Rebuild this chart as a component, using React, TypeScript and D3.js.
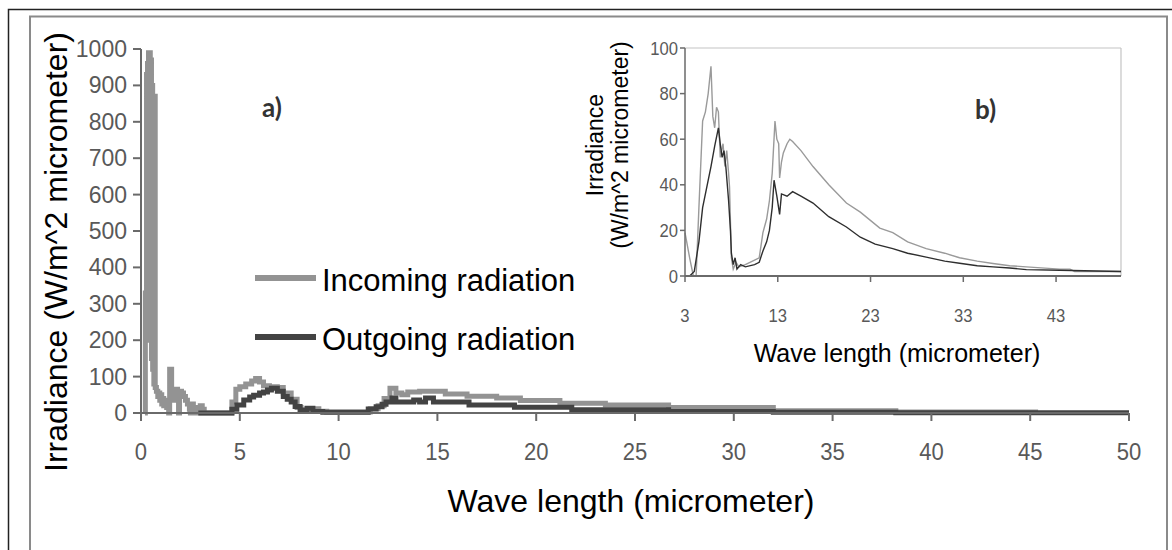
import React from 'react';
import * as d3 from 'd3';

// ---------- tick labels ----------
const mainTicksX = [0, 5, 10, 15, 20, 25, 30, 35, 40, 45, 50];
const mainTicksY = [0, 100, 200, 300, 400, 500, 600, 700, 800, 900, 1000];
const insetTicksX = [3, 13, 23, 33, 43];
const insetTicksY = [0, 20, 40, 60, 80, 100];

// ---------- main chart a) ----------
const mainInX = [0.20, 0.22, 0.26, 0.28, 0.31, 0.33, 0.36, 0.38, 0.41, 0.44, 0.47, 0.50, 0.53, 0.56, 0.59, 0.62, 0.65, 0.68, 0.72,
  0.78, 0.85, 0.90, 0.95, 1.00, 1.05, 1.10, 1.15, 1.20, 1.30, 1.35, 1.40, 1.45, 1.55, 1.60, 1.70, 1.75, 1.85, 1.90, 1.95, 2.05,
  2.15, 2.25, 2.35, 2.45, 2.50, 2.55, 2.65, 2.80, 3.00, 3.10, 3.20, 4.40, 4.60, 4.80, 5.00, 5.30, 5.60, 5.80, 6.00, 6.20, 6.50,
  6.90, 7.20, 7.60, 7.90, 8.10, 8.60, 9.00, 9.40, 11.20, 11.60, 12.00, 12.30, 12.60, 12.90, 13.20, 13.50, 14.10, 15.40, 16.50,
  18.00, 19.20, 21.20, 23.50, 26.70, 32.00, 38.20, 45.40];
const mainInY = [0, 330, 310, 930, 330, 960, 300, 990, 350, 990, 200, 970, 150, 900, 120, 870, 80, 870, 70,
  60, 45, 55, 35, 50, 25, 40, 20, 35, 15, 30, 0, 120, 40, 60, 35, 65, 50, 0, 60, 55,
  45, 35, 25, 10, 0, 25, 15, 0, 20, 10, 0, 0, 30, 65, 72, 80, 88, 95, 85, 75, 72,
  70, 55, 38, 15, 5, 12, 5, 3, 3, 12, 20, 40, 68, 55, 50, 58, 60, 52, 46,
  41, 34, 27, 22, 15, 6, 3, 3];

const mainOutX = [2.9, 4.3, 4.6, 4.85, 5.2, 5.5, 5.7, 6.0, 6.2, 6.4, 6.6, 6.9, 7.2, 7.4, 7.6, 7.8, 8.05, 8.4, 8.7, 9.2,
  11.2, 11.5, 11.9, 12.2, 12.4, 12.7, 12.9, 13.2, 13.8, 14.1, 14.4, 14.8, 15.6, 16.6, 18.9, 21.8, 26.7, 32.0, 38.2, 50.0];
const mainOutY = [0, 0, 10, 22, 36, 44, 49, 55, 58, 63, 68, 60, 45, 38, 30, 18, 8, 13, 4, 2,
  2, 11, 17, 24, 30, 41, 30, 30, 36, 30, 41, 30, 30, 22, 16, 9, 4, 2, 1, 1];

// ---------- inset b) ----------
const insetInX = [3, 3.5, 3.9, 4.2, 4.5, 4.9, 5.2, 5.5, 5.8, 6.0, 6.2, 6.4, 6.6, 6.8, 7.1, 7.3, 7.5, 7.7, 7.8, 8.0, 8.2, 8.5,
  8.8, 9.5, 10.5, 11.0, 11.4, 11.8, 12.1, 12.4, 12.7, 12.9, 13.1, 13.2, 13.4, 13.6, 14.0, 14.3, 14.6, 15.5, 16.8, 18.5,
  20.4, 21.9, 24, 25.4, 27, 29, 31, 32.6, 34.5, 36.2, 38, 39.8, 43.4, 44.5, 45, 50];
const insetInY = [19, 8, 0, 0, 30, 68, 72, 80, 92, 70, 65, 74, 72, 52, 58, 48, 55, 45, 39, 8, 3, 6,
  4, 5, 7, 8, 19, 25, 33, 45, 68, 60, 58, 43, 50, 54, 58, 60, 59, 55, 48, 40,
  32, 28, 21, 19, 15, 12, 10, 8, 6.5, 5.5, 4.5, 4, 3, 3, 2, 2];

const insetOutX = [3, 3.5, 4.0, 4.5, 4.9, 5.3, 5.8, 6.2, 6.6, 6.8, 7.0, 7.2, 7.4, 7.7, 7.9, 8.0, 8.2, 8.4, 8.6, 9, 9.5,
  10.5, 11, 11.4, 11.8, 12.1, 12.4, 12.6, 12.9, 13.2, 13.4, 14, 14.6, 15.5, 16.8, 18.5, 20.4, 21.9, 23.5, 25.4, 27, 29,
  31, 32.6, 34.5, 36.2, 38, 39.8, 43.4, 50];
const insetOutY = [0, 0, 2, 15, 30, 38, 48, 57, 65, 58, 52, 55, 48, 33, 20, 10, 5, 8, 3, 5, 4,
  5, 6, 11, 15, 20, 30, 42, 35, 27, 36, 35, 37, 35, 32, 26, 21.5, 17, 14, 12, 10, 8.3,
  6.5, 5.6, 4.5, 4, 3.5, 2.8, 2.5, 2];

const FONT = "'Liberation Sans', Arial, sans-serif";
const TICK_COLOR = '#595959';
const AXIS_COLOR = '#6a6a6a';
const IN_COLOR = '#939393';
const OUT_COLOR = '#434343';

export default function App() {
  // main scales
  const x = d3.scaleLinear().domain([0, 50]).range([141, 1129]);
  const y = d3.scaleLinear().domain([0, 1000]).range([413, 49]);
  // inset scales
  const ix = d3.scaleLinear().domain([3, 50]).range([685, 1121]);
  const iy = d3.scaleLinear().domain([0, 100]).range([276, 48]);

  const mainIn = d3.line<[number, number]>().x(d => x(d[0])).y(d => y(d[1])).curve(d3.curveStepAfter)(
    mainInX.map((v, i) => [v, mainInY[i]]));
  const mainOut = d3.line<[number, number]>().x(d => x(d[0])).y(d => y(d[1])).curve(d3.curveStepAfter)(
    mainOutX.map((v, i) => [v, mainOutY[i]]));
  const insetIn = d3.line<[number, number]>().x(d => ix(d[0])).y(d => iy(d[1]))(
    insetInX.map((v, i) => [v, insetInY[i]]));
  const insetOut = d3.line<[number, number]>().x(d => ix(d[0])).y(d => iy(d[1]))(
    insetOutX.map((v, i) => [v, insetOutY[i]]));

  return (
    <svg width={1172} height={550} style={{ position: 'absolute', left: 0, top: 0, background: '#fff' }}
      fontFamily={FONT}>
      <rect x={0} y={0} width={1172} height={550} fill="#fff" />
      {/* frames */}
      <rect x={8.5} y={9.5} width={1200} height={600} fill="none" stroke="#222" strokeWidth={1.5} />
      <rect x={30} y={16.5} width={1137} height={600} fill="none" stroke="#8a8a8a" strokeWidth={2} />

      {/* main series */}
      <path d={mainIn || ''} fill="none" stroke={IN_COLOR} strokeWidth={5} strokeLinejoin="miter" />
      <path d={mainOut || ''} fill="none" stroke={OUT_COLOR} strokeWidth={5} strokeLinejoin="miter" />

      {/* main axes */}
      <line x1={x(0)} x2={x(0)} y1={y(0)} y2={y(1000)} stroke={AXIS_COLOR} strokeWidth={2} />
      <line x1={x(0)} x2={x(50)} y1={y(0)} y2={y(0)} stroke={AXIS_COLOR} strokeWidth={2} />
      {mainTicksY.map(t => (
        <g key={'my' + t}>
          <line x1={x(0) - 8} x2={x(0)} y1={y(t)} y2={y(t)} stroke={AXIS_COLOR} strokeWidth={2} />
          <text x={x(0) - 14} y={y(t) + 8} textAnchor="end" fontSize={23} fill={TICK_COLOR}>{t}</text>
        </g>
      ))}
      {mainTicksX.map(t => (
        <g key={'mx' + t}>
          <line x1={x(t)} x2={x(t)} y1={y(0)} y2={y(0) + 8} stroke={AXIS_COLOR} strokeWidth={2} />
          <text transform={`translate(${x(t)},${y(0) + 47}) scale(0.92,1)`} textAnchor="middle" fontSize={24}
            fill={TICK_COLOR}>{t}</text>
        </g>
      ))}
      <text transform={`translate(67,252) rotate(-90)`} textAnchor="middle" fontSize={32} fill="#000">
        Irradiance (W/m^2 micrometer)
      </text>
      <text x={631} y={512} textAnchor="middle" fontSize={32} fill="#000">Wave length (micrometer)</text>
      <text x={262} y={117} fontSize={26} fontWeight={700} fill="#333" fontFamily="Lato, 'Open Sans', sans-serif">a)</text>

      {/* legend */}
      <line x1={255} x2={316} y1={278} y2={278} stroke={IN_COLOR} strokeWidth={6} />
      <text x={322} y={291} fontSize={31} fill="#000">Incoming radiation</text>
      <line x1={255} x2={316} y1={337} y2={337} stroke={OUT_COLOR} strokeWidth={6} />
      <text x={322} y={350} fontSize={31} fill="#000">Outgoing radiation</text>

      {/* inset */}
      <line x1={ix(3)} x2={ix(50)} y1={iy(100)} y2={iy(100)} stroke="#c4c4c4" strokeWidth={1.2} />
      <line x1={ix(50)} x2={ix(50)} y1={iy(100)} y2={iy(0)} stroke="#c4c4c4" strokeWidth={1.2} />
      <path d={insetIn || ''} fill="none" stroke="#9a9a9a" strokeWidth={1.4} />
      <path d={insetOut || ''} fill="none" stroke="#2e2e2e" strokeWidth={1.4} />
      <line x1={ix(3)} x2={ix(3)} y1={iy(0)} y2={iy(100)} stroke={AXIS_COLOR} strokeWidth={1.5} />
      <line x1={ix(3)} x2={ix(50)} y1={iy(0)} y2={iy(0)} stroke={AXIS_COLOR} strokeWidth={1.8} />
      {insetTicksY.map(t => (
        <g key={'iy' + t}>
          <line x1={ix(3) - 5} x2={ix(3)} y1={iy(t)} y2={iy(t)} stroke={AXIS_COLOR} strokeWidth={1.5} />
          <text transform={`translate(${ix(3) - 7},${iy(t) + 6.5}) scale(0.9,1)`} textAnchor="end" fontSize={18.5}
            fill={TICK_COLOR}>{t}</text>
        </g>
      ))}
      {insetTicksX.map(t => (
        <g key={'ix' + t}>
          <line x1={ix(t)} x2={ix(t)} y1={iy(0)} y2={iy(0) + 6} stroke={AXIS_COLOR} strokeWidth={1.5} />
          <text transform={`translate(${ix(t)},${iy(0) + 46}) scale(0.9,1)`} textAnchor="middle" fontSize={18.5}
            fill={TICK_COLOR}>{t}</text>
        </g>
      ))}
      <text transform={`translate(603,145) rotate(-90)`} textAnchor="middle" fontSize={23} fill="#000">Irradiance</text>
      <text transform={`translate(628,145) rotate(-90)`} textAnchor="middle" fontSize={23} fill="#000">(W/m^2 micrometer)</text>
      <text x={897} y={362} textAnchor="middle" fontSize={25} fill="#000">Wave length (micrometer)</text>
      <text x={975} y={119} fontSize={26} fontWeight={700} fill="#333" fontFamily="Lato, 'Open Sans', sans-serif">b)</text>
    </svg>
  );
}
